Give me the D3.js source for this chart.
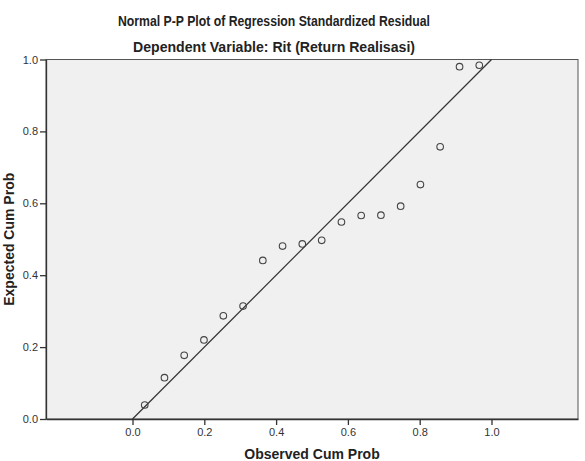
<!DOCTYPE html>
<html><head><meta charset="utf-8">
<script src="https://cdn.jsdelivr.net/npm/d3@7"></script>
<style>body{margin:0;background:#fff;} svg{display:block;}</style>
</head><body>
<svg id="chart" width="585" height="461"></svg>
<script>
const titleLines = ["Normal P-P Plot of Regression Standardized Residual", "Dependent Variable: Rit (Return Realisasi)"];
const xLabel = "Observed Cum Prob";
const yLabel = "Expected Cum Prob";
const observed = [0.034, 0.089, 0.144, 0.199, 0.253, 0.308, 0.363, 0.418, 0.473, 0.527, 0.582, 0.637, 0.692, 0.747, 0.802, 0.857, 0.911, 0.966];
const expected = [0.039, 0.115, 0.177, 0.220, 0.287, 0.314, 0.441, 0.481, 0.487, 0.497, 0.548, 0.566, 0.567, 0.592, 0.652, 0.757, 0.980, 0.984];
const tickValues = [0, 0.2, 0.4, 0.6, 0.8, 1.0];
const refLine = [[0, 0], [1, 1]];

const svg = d3.select("#chart");
const L = 46, R = 578, T = 59.5, B = 419;
const x = d3.scaleLinear().domain([-0.241, 1.241]).range([L, R]);
const y = d3.scaleLinear().domain([0, 1]).range([B, T]);

svg.append("rect").attr("x", L).attr("y", T).attr("width", R - L).attr("height", B - T)
  .attr("fill", "#f0f0f0").attr("stroke", "#555").attr("stroke-width", 1);

const font = "'Liberation Sans', Arial, sans-serif";

const xAxis = svg.append("g").attr("transform", `translate(0,${B})`)
  .call(d3.axisBottom(x).tickValues(tickValues).tickFormat(d3.format(".1f")).tickSizeInner(6).tickSizeOuter(0).tickPadding(3));
const yAxis = svg.append("g").attr("transform", `translate(${L},0)`)
  .call(d3.axisLeft(y).tickValues(tickValues).tickFormat(d3.format(".1f")).tickSizeInner(6).tickSizeOuter(0).tickPadding(2));
[xAxis, yAxis].forEach(g => {
  g.select(".domain").attr("stroke", "#333").attr("stroke-width", 1.3);
  g.selectAll(".tick line").attr("stroke", "#333").attr("stroke-width", 1.3);
  g.selectAll(".tick text").attr("fill", "#333").style("font-family", font).style("font-size", "11px");
});

svg.append("path").datum(refLine)
  .attr("d", d3.line().x(d => x(d[0])).y(d => y(d[1])))
  .attr("stroke", "#333").attr("stroke-width", 1.2).attr("fill", "none");

svg.append("g").selectAll("circle").data(observed.map((o, i) => [o, expected[i]])).join("circle")
  .attr("cx", d => x(d[0])).attr("cy", d => y(d[1])).attr("r", 3.3)
  .attr("fill", "none").attr("stroke", "#444").attr("stroke-width", 1.1);

svg.append("text").attr("x", 274).attr("y", 25.5).attr("text-anchor", "middle")
  .attr("textLength", 312).attr("lengthAdjust", "spacingAndGlyphs")
  .style("font-family", font).style("font-size", "14px").style("font-weight", "bold").attr("fill", "#222").text(titleLines[0]);
svg.append("text").attr("x", 274).attr("y", 51.5).attr("text-anchor", "middle")
  .attr("textLength", 282).attr("lengthAdjust", "spacingAndGlyphs")
  .style("font-family", font).style("font-size", "14px").style("font-weight", "bold").attr("fill", "#222").text(titleLines[1]);

svg.append("text").attr("x", 312).attr("y", 459).attr("text-anchor", "middle")
  .style("font-family", font).style("font-size", "14px").style("font-weight", "bold").attr("fill", "#222").text(xLabel);
svg.append("text").attr("transform", `translate(14,${(T + B) / 2}) rotate(-90)`).attr("text-anchor", "middle")
  .style("font-family", font).style("font-size", "14px").style("font-weight", "bold").attr("fill", "#222").text(yLabel);
</script>
</body></html>
